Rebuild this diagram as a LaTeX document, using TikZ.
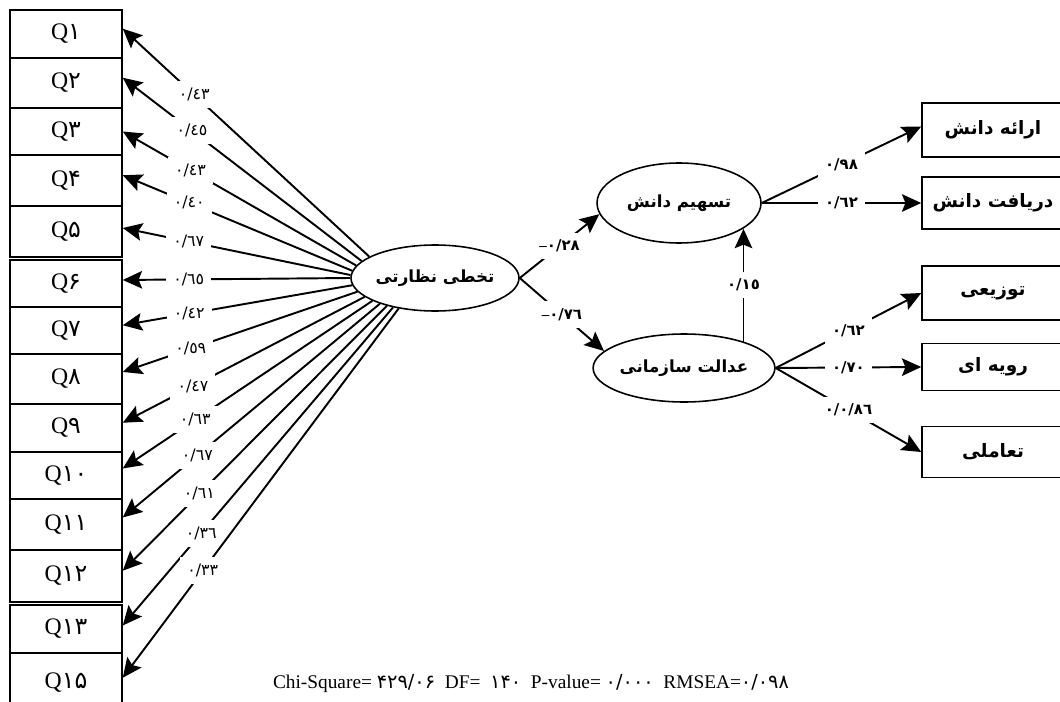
\documentclass[tikz,border=0pt]{standalone}
\usepackage{fontspec}
\setmainfont{Liberation Serif}
\newfontfamily\farsi[Script=Arabic]{DejaVu Sans}
\TeXXeTstate=1
\usepackage{tikz}
\usetikzlibrary{arrows.meta,positioning,shapes.geometric}

\begin{document}
\begin{tikzpicture}[
  x=0.02cm, y=-0.02cm,
  qbox/.style    = {draw, line width=0.9pt, minimum width=2.24cm,
                    minimum height=#1, inner sep=0pt,
                    font=\fontsize{13.5}{15}\selectfont},
  dimbox/.style  = {draw, line width=0.9pt, minimum width=2.84cm,
                    minimum height=#1, inner sep=0pt,
                    font=\farsi\bfseries\fontsize{10.5}{12}\selectfont},
  latent/.style  = {draw, ellipse, line width=0.9pt, inner sep=0pt,
                    font=\farsi\bfseries\fontsize{9.5}{12}\selectfont},
  arr/.style     = {-{Stealth[length=11pt,width=10pt,inset=2pt]}, line width=1.1pt},
  coef/.style    = {fill=white, inner sep=4pt, font=\farsi\fontsize{9}{10}\selectfont},
  coefb/.style   = {coef, font=\farsi\bfseries\fontsize{8.5}{10}\selectfont},
]
\useasboundingbox (0,0) rectangle (1060,702);

%% ── observed items (left column) ────────────────────────────────────────────
\node[qbox=0.96cm] (q1)  at (66, 34)    {Q{\farsi ۱}};
\node[qbox=1.00cm] (q2)  at (66, 83)    {Q{\farsi ۲}};
\node[qbox=0.94cm] (q3)  at (66,131.5)  {Q{\farsi ۳}};
\node[qbox=1.02cm] (q4)  at (66,180.5)  {Q{\farsi ۴}};
\node[qbox=1.02cm] (q5)  at (66,231.5)  {Q{\farsi ۵}};
\node[qbox=0.94cm] (q6)  at (66,283.5)  {Q{\farsi ۶}};
\node[qbox=0.94cm] (q7)  at (66,330.5)  {Q{\farsi ۷}};
\node[qbox=1.00cm] (q8)  at (66,379)    {Q{\farsi ۸}};
\node[qbox=0.96cm] (q9)  at (66,428)    {Q{\farsi ۹}};
\node[qbox=0.94cm] (q10) at (66,475.5)  {Q{\farsi ۱۰}};
\node[qbox=1.02cm] (q11) at (66,524.5)  {Q{\farsi ۱۱}};
\node[qbox=1.04cm] (q12) at (66,576)    {Q{\farsi ۱۲}};
\node[qbox=0.96cm] (q13) at (66,629)    {Q{\farsi ۱۳}};
\node[qbox=1.20cm] (q15) at (66,683)    {Q{\farsi ۱۵}};

%% ── latent variables ─────────────────────────────────────────────────────────
\node[latent, minimum width=3.2cm,  minimum height=1.32cm] (super)   at (435,278)
  {\beginR تخطی نظارتی\endR};
\node[latent, minimum width=3.28cm, minimum height=1.6cm]  (share)   at (679,203)
  {\beginR تسهیم دانش\endR};
\node[latent, minimum width=3.52cm, minimum height=1.36cm] (justice) at (684,368)
  {\beginR عدالت سازمانی\endR};

%% ── dimensions (right column) ───────────────────────────────────────────────
\node[dimbox=1.08cm] (offer)   at (993,130) {\beginR ارائه دانش\endR};
\node[dimbox=1.04cm] (receive) at (993,203) {\beginR دریافت دانش\endR};
\node[dimbox=1.08cm] (distr)   at (993,293) {\beginR توزیعی\endR};
\node[dimbox=0.94cm] (proc)    at (993,367) {\beginR رویه ای\endR};
\node[dimbox=1.02cm] (inter)   at (993,452) {\beginR تعاملی\endR};

%% ── loadings of the supervision factor ──────────────────────────────────────
\draw[arr] (super.162) -- node[coef, pos=0.71] {٠/٤٣} ([yshift=3pt]q1.east);
\draw[arr] (super.167) -- node[coef, pos=0.71] {٠/٤٥} ([yshift=3pt]q2.east);
\draw[arr] (super.171) -- node[coef, pos=0.71] {٠/٤٣} (q3.east);
\draw[arr] (super.175) -- node[coef, pos=0.71] {٠/٤٠} ([yshift=3pt]q4.east);
\draw[arr] (super.178) -- node[coef, pos=0.71] {٠/٦٧} ([yshift=2pt]q5.east);
\draw[arr] (super.180) -- node[coef, pos=0.71] {٠/٦٥} ([yshift=2pt]q6.east);
\draw[arr] (super.185) -- node[coef, pos=0.71] {٠/٤٢} ([yshift=3pt]q7.east);
\draw[arr] (super.190) -- node[coef, pos=0.71] {٠/٥٩} ([yshift=4pt]q8.east);
\draw[arr] (super.195) -- node[coef, pos=0.71] {٠/٤٧} ([yshift=3pt]q9.east);
\draw[arr] (super.200) -- node[coef, pos=0.71] {٠/٦٣} ([yshift=4pt]q10.east);
\draw[arr] (super.205) -- node[coef, pos=0.71] {٠/٦٧} ([yshift=4pt]q11.east);
\draw[arr] (super.210) -- node[coef, pos=0.71] {٠/٦١} ([yshift=3pt]q12.east);
\draw[arr] (super.215) -- node[coef, pos=0.71] {٠/٣٦} ([yshift=2pt]q13.east);
\draw[arr] (super.220) -- node[coef, pos=0.71] {٠/٣٣} ([yshift=3pt]q15.east);

%% ── structural paths ────────────────────────────────────────────────────────
\draw[arr] (super.east) -- node[coefb] {{\rmfamily –}٠/٢٨} (share.188);
\draw[arr] (super.east) -- node[coefb] {{\rmfamily –}٠/٧٦} (justice.168);
\draw[arr] (justice.24) -- node[coefb] {٠/١٥} (justice.24 |- share.338);

%% ── loadings of the two outcome factors ─────────────────────────────────────
\draw[arr] (share.east)   -- node[coefb] {٠/٩٨}   ([yshift=2pt]offer.west);
\draw[arr] (share.east)   -- node[coefb] {٠/٦٢}   (receive.west);
\draw[arr] (justice.east) -- node[coefb] {٠/٦٢}   (distr.west);
\draw[arr] (justice.east) -- node[coefb] {٠/٧٠}   (proc.west);
\draw[arr] (justice.east) -- node[coefb] {٠/٠/٨٦} (inter.west);

%% ── fit indices ─────────────────────────────────────────────────────────────
\node[font=\fontsize{11}{13}\selectfont] (fit) at (531,684)
  {Chi-Square= {\farsi ۴۲۹/۰۶}\ \ DF=\ \ {\farsi ۱۴۰}\ \ P-value= {\farsi ۰/۰۰۰}\ \ RMSEA={\farsi ۰/۰۹۸}};

\end{tikzpicture}
\end{document}
